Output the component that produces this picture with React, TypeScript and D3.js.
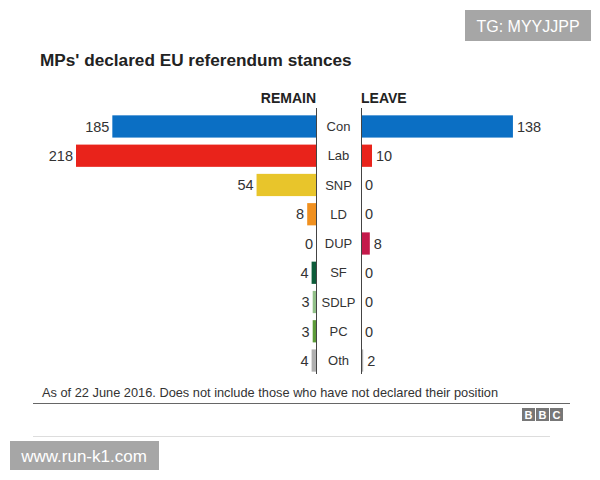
import * as d3 from "d3";
import React, { useEffect, useRef } from "react";

const parties = ["Con", "Lab", "SNP", "LD", "DUP", "SF", "SDLP", "PC", "Oth"];
const remainValues = [185, 218, 54, 8, 0, 4, 3, 3, 4];
const leaveValues = [138, 10, 0, 0, 8, 0, 0, 0, 2];
const partyColors = [
  "#0b6fc4",
  "#e9231b",
  "#e8c52b",
  "#f0901f",
  "#c41a4b",
  "#0d5c3a",
  "#92c089",
  "#5d9b3a",
  "#b0b0b0",
];

const FONT = "'Liberation Sans', Arial, Helvetica, sans-serif";

const App = () => {
  const ref = useRef<SVGSVGElement | null>(null);

  useEffect(() => {
    const svg = d3.select(ref.current);
    svg.selectAll("*").remove();

    const width = 600;
    const height = 480;
    const leftAxis = 316;
    const rightAxis = 361;
    const rowTop = 113;
    const rowBottom = 374;

    svg.attr("width", width).attr("height", height).style("background", "#fff");

    const y = d3
      .scaleBand()
      .domain(parties)
      .range([rowTop, rowBottom])
      .paddingInner(0.24)
      .paddingOuter(0.08);

    const remainX = d3.scaleLinear().domain([0, 218]).range([leftAxis, 76]);
    const leaveX = d3.scaleLinear().domain([0, 218]).range([rightAxis, rightAxis + 240]);

    const data = parties.map((p, i) => ({
      party: p,
      remain: remainValues[i],
      leave: leaveValues[i],
      color: partyColors[i],
    }));

    // title
    svg
      .append("text")
      .attr("x", 40)
      .attr("y", 66)
      .attr("font-family", FONT)
      .attr("font-size", 17.2)
      .attr("font-weight", "bold")
      .attr("fill", "#222")
      .text("MPs' declared EU referendum stances");

    svg
      .append("text")
      .attr("x", leftAxis)
      .attr("y", 103)
      .attr("text-anchor", "end")
      .attr("font-family", FONT)
      .attr("font-size", 14)
      .attr("font-weight", "bold")
      .attr("fill", "#222")
      .text("REMAIN");

    svg
      .append("text")
      .attr("x", rightAxis)
      .attr("y", 103)
      .attr("font-family", FONT)
      .attr("font-size", 14)
      .attr("font-weight", "bold")
      .attr("fill", "#222")
      .text("LEAVE");

    const g = svg.append("g");

    g.selectAll("rect.remain")
      .data(data)
      .enter()
      .append("rect")
      .attr("class", "remain")
      .attr("x", (d) => remainX(d.remain))
      .attr("y", (d) => y(d.party)!)
      .attr("width", (d) => leftAxis - remainX(d.remain))
      .attr("height", y.bandwidth())
      .attr("fill", (d) => d.color);

    g.selectAll("rect.leave")
      .data(data)
      .enter()
      .append("rect")
      .attr("class", "leave")
      .attr("x", rightAxis)
      .attr("y", (d) => y(d.party)!)
      .attr("width", (d) => leaveX(d.leave) - rightAxis)
      .attr("height", y.bandwidth())
      .attr("fill", (d) => d.color);

    const mid = (d: { party: string }) => y(d.party)! + y.bandwidth() / 2;

    g.selectAll("text.rv")
      .data(data)
      .enter()
      .append("text")
      .attr("class", "rv")
      .attr("x", (d) => remainX(d.remain) - 3)
      .attr("y", mid)
      .attr("dy", "0.36em")
      .attr("text-anchor", "end")
      .attr("font-family", FONT)
      .attr("font-size", 14.5)
      .attr("fill", "#333")
      .text((d) => d.remain);

    g.selectAll("text.lv")
      .data(data)
      .enter()
      .append("text")
      .attr("class", "lv")
      .attr("x", (d) => leaveX(d.leave) + 4)
      .attr("y", mid)
      .attr("dy", "0.36em")
      .attr("font-family", FONT)
      .attr("font-size", 14.5)
      .attr("fill", "#333")
      .text((d) => d.leave);

    g.selectAll("text.party")
      .data(data)
      .enter()
      .append("text")
      .attr("class", "party")
      .attr("x", (leftAxis + rightAxis) / 2)
      .attr("y", mid)
      .attr("dy", "0.36em")
      .attr("text-anchor", "middle")
      .attr("font-family", FONT)
      .attr("font-size", 13)
      .attr("fill", "#333")
      .text((d) => d.party);

    // axis lines
    [leftAxis, rightAxis].forEach((xv) => {
      svg
        .append("line")
        .attr("x1", xv + 0.5)
        .attr("x2", xv + 0.5)
        .attr("y1", 108)
        .attr("y2", rowBottom)
        .attr("stroke", "#444")
        .attr("stroke-width", 1);
    });

    // footnote
    svg
      .append("text")
      .attr("x", 42)
      .attr("y", 397)
      .attr("font-family", FONT)
      .attr("font-size", 12.8)
      .attr("fill", "#333")
      .text("As of 22 June 2016. Does not include those who have not declared their position");

    svg
      .append("line")
      .attr("x1", 33)
      .attr("x2", 570)
      .attr("y1", 403.5)
      .attr("y2", 403.5)
      .attr("stroke", "#666")
      .attr("stroke-width", 1);

    // BBC logo
    const logo = svg.append("g").attr("transform", "translate(522,408)");
    ["B", "B", "C"].forEach((ch, i) => {
      logo
        .append("rect")
        .attr("x", i * 14)
        .attr("width", 13)
        .attr("height", 13)
        .attr("fill", "#777");
      logo
        .append("text")
        .attr("x", i * 14 + 6.5)
        .attr("y", 11)
        .attr("text-anchor", "middle")
        .attr("font-family", FONT)
        .attr("font-size", 11)
        .attr("font-weight", "bold")
        .attr("fill", "#fff")
        .text(ch);
    });

    svg
      .append("line")
      .attr("x1", 33)
      .attr("x2", 550)
      .attr("y1", 436.5)
      .attr("y2", 436.5)
      .attr("stroke", "#ddd")
      .attr("stroke-width", 1);

    // watermarks
    svg
      .append("rect")
      .attr("x", 465)
      .attr("y", 10)
      .attr("width", 126)
      .attr("height", 31)
      .attr("fill", "#a6a6a6");
    svg
      .append("text")
      .attr("x", 528)
      .attr("y", 31.5)
      .attr("text-anchor", "middle")
      .attr("font-family", FONT)
      .attr("font-size", 16)
      .attr("fill", "#fff")
      .text("TG: MYYJJPP");

    svg
      .append("rect")
      .attr("x", 10)
      .attr("y", 441)
      .attr("width", 149)
      .attr("height", 29)
      .attr("fill", "#a6a6a6");
    svg
      .append("text")
      .attr("x", 84)
      .attr("y", 461.5)
      .attr("text-anchor", "middle")
      .attr("font-family", FONT)
      .attr("font-size", 17)
      .attr("fill", "#fff")
      .text("www.run-k1.com");
  }, []);

  return (
    <svg
      ref={ref}
      style={{ position: "absolute", left: 0, top: 0, display: "block" }}
    />
  );
};

export default App;
